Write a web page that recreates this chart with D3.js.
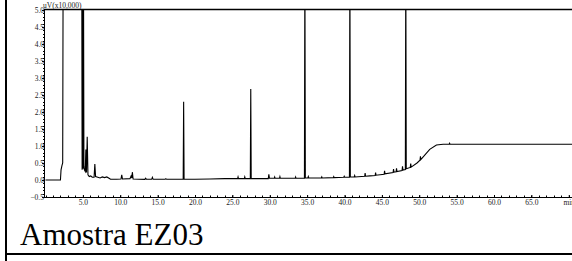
<!DOCTYPE html>
<html><head><meta charset="utf-8">
<script src="https://cdn.jsdelivr.net/npm/d3@7"></script>
<style>html,body{margin:0;padding:0;background:#fff;}svg{display:block;}
svg text{font-family:"Liberation Serif","Times New Roman",serif;}</style>
</head><body>
<svg id="c" width="572" height="261"></svg>
<script>
// retention time (min) and detector signal (uV x10,000)
const timeMin = [0,2.0,2.08,2.2,2.3,2.36,4.85,4.9,4.96,5.02,5.08,5.14,5.2,5.32,5.4,5.48,5.58,5.68,5.85,6.05,6.25,6.5,6.6,6.7,7.0,7.3,7.6,7.9,8.2,8.5,8.7,9.5,10.1,10.2,10.3,11.3,11.45,11.55,11.62,11.72,13.3,13.4,13.5,14.2,14.3,14.4,16.0,16.1,16.2,18.42,18.48,18.54,20,22,24,25.7,25.76,25.82,26.6,26.66,26.72,27.4,27.46,27.52,28,29.8,29.88,29.96,30.6,30.66,30.72,31.3,31.36,31.42,33.4,33.46,33.52,34.64,34.7,34.76,35.1,35.16,35.22,36.9,36.96,37.02,38.5,38.56,38.62,39.9,39.96,40.02,40.66,40.72,40.78,41.3,41.36,41.42,42.7,42.76,42.82,43.4,44.1,44.16,44.22,45.3,45.36,45.42,46.5,46.56,46.62,46.9,46.96,47.02,47.7,47.76,47.82,48.14,48.2,48.26,48.8,48.86,48.92,49.7,50.1,50.16,50.22,50.5,51.4,52.3,53.2,54,54.06,54.12,72];
const signal = [0,0,0.3,0.42,0.5,6.5,6.5,0.3,6.5,0.33,6.5,0.4,0.3,0.25,0.9,0.22,1.27,0.15,0.1,0.12,0.08,0.08,0.47,0.1,0.08,0.06,0.09,0.07,0.09,0.05,0.02,0.02,0.03,0.15,0.03,0.04,0.12,0.06,0.23,0.03,0.02,0.05,0.02,0.02,0.08,0.02,0.02,0.04,0.02,0.02,2.3,0.02,0.02,0.03,0.04,0.04,0.09,0.04,0.04,0.09,0.04,0.04,2.68,0.04,0.04,0.04,0.17,0.05,0.05,0.09,0.05,0.05,0.1,0.05,0.05,0.09,0.05,0.05,6.5,0.06,0.06,0.1,0.06,0.06,0.09,0.06,0.07,0.1,0.07,0.08,0.11,0.08,0.08,6.5,0.09,0.09,0.13,0.09,0.11,0.2,0.11,0.12,0.13,0.22,0.14,0.17,0.27,0.18,0.22,0.32,0.23,0.24,0.34,0.25,0.28,0.4,0.29,0.31,6.5,0.33,0.37,0.48,0.38,0.5,0.58,0.7,0.6,0.67,0.9,1.03,1.05,1.05,1.08,1.05,1.05];
const yTicks = [-0.5,0.0,0.5,1.0,1.5,2.0,2.5,3.0,3.5,4.0,4.5,5.0];
const xTicks = [5,10,15,20,25,30,35,40,45,50,55,60,65];
const xUnitTick = 70, xUnit = "min";
const yUnit = "uV(x10,000)";
const sampleName = "Amostra EZ03";

(function(){
const svg = d3.select("#c");
svg.append("rect").attr("width",572).attr("height",261).attr("fill","#fff");

const x = d3.scaleLinear().domain([0,70]).range([45.5, 45.5+7.475*70]);
const y = d3.scaleLinear().domain([-0.5,5.0]).range([197,10]);
const pL = 44, pT = 9, pB = 197, pR = 572;

svg.append("clipPath").attr("id","pc").append("rect")
  .attr("x",pL).attr("y",pT).attr("width",pR-pL).attr("height",pB-pT);

// trace
const pts = timeMin.map((t,i)=>[t,signal[i]]);
svg.append("path").datum(pts)
  .attr("clip-path","url(#pc)")
  .attr("fill","none").attr("stroke","#000").attr("stroke-width",1.1)
  .attr("d", d3.line().x(d=>x(d[0])).y(d=>y(d[1])));

// y axis
const ya = d3.axisLeft(y).tickValues(yTicks).tickFormat(d3.format(".1f")).tickSize(2).tickPadding(0);
const yg = svg.append("g").attr("transform",`translate(${pL},0)`).call(ya);
yg.attr("font-family",null);
yg.select(".domain").attr("d",`M0.5,${pT}V${pB}`).attr("stroke","#000");
yg.selectAll("text").attr("font-size",7.5).attr("fill","#222").attr("x",0);
// y minor ticks
const yMinor = d3.range(-5,51).map(v=>v/10);
svg.append("g").selectAll("line").data(yMinor).join("line")
  .attr("x1",pL-1).attr("x2",pL+0.5).attr("y1",d=>Math.round(y(d))+0.5).attr("y2",d=>Math.round(y(d))+0.5)
  .attr("stroke","#000").attr("stroke-width",1);

// x axis
const xa = d3.axisBottom(x).tickValues(xTicks.concat([xUnitTick]))
  .tickFormat(d=> d===xUnitTick ? xUnit : d3.format(".1f")(d)).tickSize(-2).tickPadding(3);
const xg = svg.append("g").attr("transform",`translate(0,${pB})`).call(xa);
xg.attr("font-family",null);
xg.select(".domain").attr("d",`M${pL},0.5H${pR}`).attr("stroke","#000");
xg.selectAll("text").attr("font-size",7.5).attr("fill","#222");
const xMinor = d3.range(0,71);
svg.append("g").selectAll("line").data(xMinor).join("line")
  .attr("y1",pB-1.5).attr("y2",pB+0.5).attr("x1",d=>Math.round(x(d))+0.5).attr("x2",d=>Math.round(x(d))+0.5)
  .attr("stroke","#000").attr("stroke-width",1);

// top frame line
svg.append("line").attr("x1",pL).attr("x2",pR).attr("y1",pT+0.5).attr("y2",pT+0.5)
  .attr("stroke","#000").attr("stroke-width",1.5);

// unit label
svg.append("text").attr("x",pL-1).attr("y",8).attr("font-size",7.5)
  .attr("fill","#222").text(yUnit);

// outer frame
svg.append("line").attr("x1",6).attr("x2",6).attr("y1",0).attr("y2",261).attr("stroke","#000").attr("stroke-width",2);
svg.append("line").attr("x1",5).attr("x2",572).attr("y1",254).attr("y2",254).attr("stroke","#000").attr("stroke-width",2);

// sample name
svg.append("text").attr("x",20).attr("y",245).attr("font-size",31)
  .attr("fill","#000").text(sampleName);
})();
</script>
</body></html>
